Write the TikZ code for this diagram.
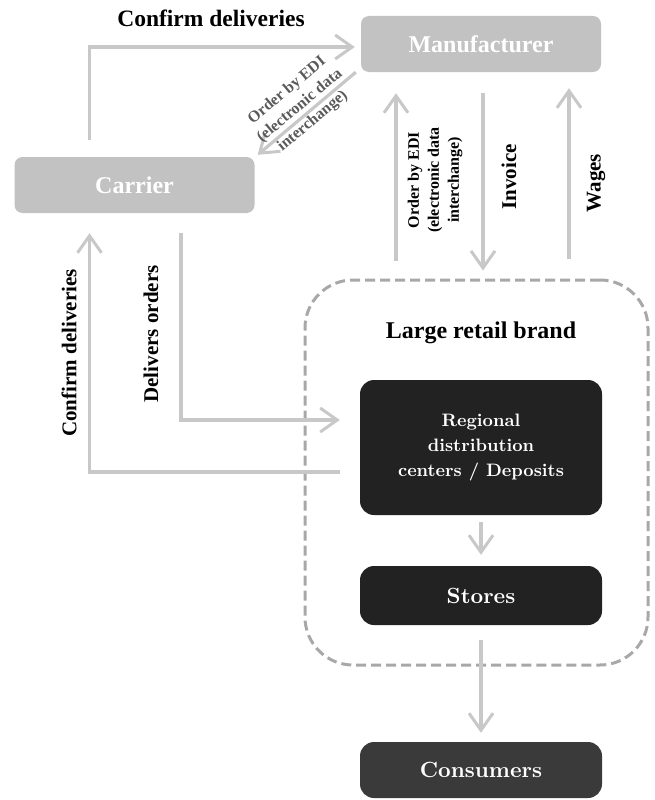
\documentclass[tikz,border=0pt]{standalone}
\usepackage{fontspec}
\newfontfamily\timesfont{Liberation Serif}
\newfontfamily\boxfont{lmroman10-bold}[Extension=.otf]
\usetikzlibrary{arrows.meta,positioning}
\definecolor{boxgray}{HTML}{C2C2C2}
\definecolor{arrowgray}{HTML}{C8C8C8}
\definecolor{dashgray}{HTML}{A8A8A8}
\definecolor{boxdark}{HTML}{222222}
\definecolor{consgray}{HTML}{3A3A3A}
\definecolor{labelgray}{HTML}{5A5A5A}

\begin{document}
\begin{tikzpicture}[
  x=1pt, y=-1pt,
  gbox/.style={fill=boxgray, rounded corners=8pt, minimum width=240pt, minimum height=56pt, text=white, font=\timesfont\bfseries\fontsize{24}{26}\selectfont},
  kbox/.style={fill=boxdark, rounded corners=14pt, minimum width=242pt, align=center, text=white, font=\boxfont\fontsize{18}{25}\selectfont},
  brandframe/.style={draw=dashgray, line width=3pt, dash pattern=on 10pt off 5pt, rounded corners=48pt},
  flow/.style={draw=arrowgray, line width=3.2pt, -{Straight Barb[length=17pt, width=24pt, line width=3pt]}},
  lbl/.style={font=\timesfont\bfseries\fontsize{21}{23}\selectfont},
  small/.style={font=\timesfont\bfseries\fontsize{16}{20}\selectfont, align=center}
]
\useasboundingbox (0,0) rectangle (654,800);

\node[gbox] (manu) at (481,44) {Manufacturer};
\node[gbox] (carrier) at (134.5,185) {Carrier};
\node[brandframe, minimum width=343pt, minimum height=385pt] (brand) at (476.5,472.5) {};
\node[lbl, font=\timesfont\bfseries\fontsize{24}{26}\selectfont] (brandlbl) at (481,333) {Large retail brand};
\node[kbox, minimum height=135pt] (rdc) at (481,447.5) {Regional\\distribution\\centers / Deposits};
\node[kbox, minimum height=59pt, font=\boxfont\fontsize{22}{24}\selectfont] (stores) at (481,595.5) {Stores};
\node[kbox, fill=consgray, minimum height=56pt, font=\boxfont\fontsize{22}{24}\selectfont] (cons) at (481,770) {Consumers};

% carrier <-> manufacturer
\draw[flow] ([xshift=-45pt,yshift=17pt]carrier.north) |- ([xshift=-6pt,yshift=-3pt]manu.west);
\node[lbl, font=\timesfont\bfseries\fontsize{23.5}{25}\selectfont] (confirmtop) at (211,18) {Confirm deliveries};
\draw[flow] ([xshift=-5pt]manu.south west) -- ([xshift=3pt,yshift=2pt]carrier.north east);
\node[small, text=labelgray, rotate=40] (edidiag) at (300,106) {Order by EDI\\(electronic data\\interchange)};

% retail brand <-> manufacturer
\draw[flow] ([xshift=-80.5pt,yshift=18pt]brand.north) -- ([xshift=-85pt,yshift=-21pt]manu.south);
\node[small, rotate=90] (ediup) at (435,180) {Order by EDI\\(electronic data\\interchange)};
\draw[flow] ([xshift=2pt,yshift=-21pt]manu.south) -- ([xshift=6.5pt,yshift=8pt]brand.north);
\node[lbl, rotate=90] (invoice) at (509,177) {Invoice};
\draw[flow] ([xshift=92.5pt,yshift=20pt]brand.north) -- ([xshift=88pt,yshift=-16pt]manu.south);
\node[lbl, rotate=90] (wages) at (596,183) {Wages};

% carrier <-> distribution centers
\draw[flow] ([xshift=-20pt,yshift=-24.5pt]rdc.west) -| ([xshift=-45pt,yshift=-20pt]carrier.south);
\node[lbl, rotate=90] (confirmleft) at (69,353) {Confirm deliveries};
\draw[flow] ([xshift=46.5pt,yshift=-20pt]carrier.south) |- ([xshift=-20pt,yshift=27.5pt]rdc.west);
\node[lbl, rotate=90] (delivers) at (151,334) {Delivers orders};

% retail chain
\draw[flow] ([yshift=-7pt]rdc.south) -- ([yshift=11pt]stores.north);
\draw[flow] ([yshift=-15pt]stores.south) -- ([yshift=9pt]cons.north);
\end{tikzpicture}
\end{document}
